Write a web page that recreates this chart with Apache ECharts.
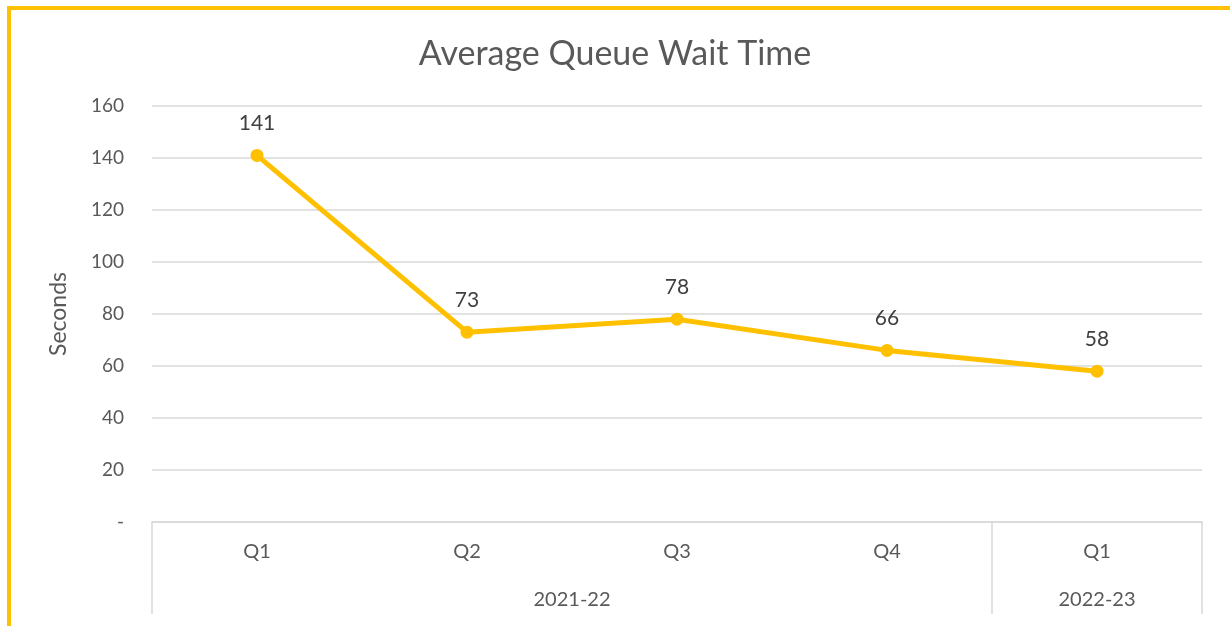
<!DOCTYPE html>
<html>
<head>
<meta charset="utf-8">
<script src="https://cdn.jsdelivr.net/npm/echarts@6/dist/echarts.min.js"></script>
<style>
  html, body { margin: 0; padding: 0; background: #fff; }
  #chart { width: 1230px; height: 626px; }
</style>
</head>
<body>
<div id="chart"></div>
<script>
// 数据
const quarters = ['Q1', 'Q2', 'Q3', 'Q4', 'Q1'];
const waitSeconds = [141, 73, 78, 66, 58];
const groupNames = ['2021-22', '2022-23'];
const groupSpans = [4, 1];
const yTicks = [0, 20, 40, 60, 80, 100, 120, 140, 160];

const font = 'Lato, "Open Sans", sans-serif';
const grey = '#595959';
const gold = '#FFC000';

let chart = echarts.init(document.getElementById('chart'));

chart.setOption({
  backgroundColor: '#fff',
  animation: false,
  title: {
    text: 'Average Queue Wait Time',
    left: 'center',
    top: 32,
    textStyle: { color: grey, fontFamily: font, fontWeight: 'normal', fontSize: 34 }
  },
  grid: { left: 152, right: 28, top: 106, bottom: 104 },
  xAxis: {
    type: 'category',
    data: quarters,
    boundaryGap: true,
    axisLine: { lineStyle: { color: '#d9d9d9', width: 1.5 } },
    axisTick: { show: false },
    axisLabel: { color: grey, fontFamily: font, fontSize: 20, margin: 20 }
  },
  yAxis: {
    type: 'value',
    min: yTicks[0],
    max: yTicks[yTicks.length - 1],
    interval: 20,
    name: 'Seconds',
    nameLocation: 'middle',
    nameGap: 82,
    nameTextStyle: { color: grey, fontFamily: font, fontSize: 23 },
    axisLine: { show: false },
    axisTick: { show: false },
    axisLabel: {
      color: grey, fontFamily: font, fontSize: 19, margin: 28,
      formatter: v => (v === 0 ? '-' : String(v))
    },
    splitLine: { lineStyle: { color: '#d9d9d9', width: 1.5 } }
  },
  series: [{
    type: 'line',
    data: waitSeconds,
    symbol: 'circle',
    symbolSize: 13,
    lineStyle: { color: gold, width: 5 },
    itemStyle: { color: gold },
    label: {
      show: true,
      position: 'top',
      distance: 15,
      color: '#404040',
      fontFamily: font,
      fontSize: 21
    }
  }]
});

// 多级分类轴：分隔线和年份标签
function drawGroups() {
  const y0 = chart.convertToPixel({ yAxisIndex: 0 }, 0);
  const step = chart.convertToPixel({ xAxisIndex: 0 }, 1) - chart.convertToPixel({ xAxisIndex: 0 }, 0);
  const left = chart.convertToPixel({ xAxisIndex: 0 }, 0) - step / 2;
  const elements = [{
    type: 'rect',
    shape: { x: 9, y: 8, width: 1400, height: 800 },
    style: { fill: null, stroke: gold, lineWidth: 4 },
    silent: true
  }];
  let start = 0;
  const bounds = [left];
  groupNames.forEach((name, i) => {
    const x1 = left + start * step;
    const x2 = left + (start + groupSpans[i]) * step;
    bounds.push(x2);
    elements.push({
      type: 'text',
      x: (x1 + x2) / 2,
      y: y0 + 78,
      style: { text: name, fill: grey, font: '20px ' + font, align: 'center', verticalAlign: 'middle' }
    });
    start += groupSpans[i];
  });
  bounds.forEach(x => {
    elements.push({
      type: 'line',
      shape: { x1: x, y1: y0, x2: x, y2: y0 + 92 },
      style: { stroke: '#d9d9d9', lineWidth: 1.5 },
      silent: true
    });
  });
  chart.setOption({ graphic: elements });
}
drawGroups();
</script>
</body>
</html>
